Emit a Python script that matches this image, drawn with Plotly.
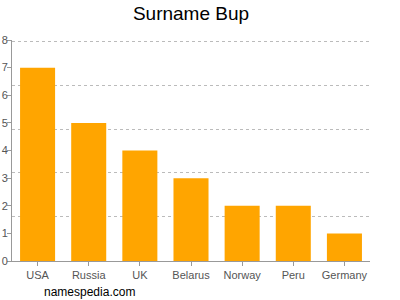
import plotly.graph_objects as go

countries = ["USA", "Russia", "UK", "Belarus", "Norway", "Peru", "Germany"]
counts = [7, 5, 4, 3, 2, 2, 1]
y_ticks = [0, 1, 2, 3, 4, 5, 6, 7, 8]

fig = go.Figure()
fig.add_trace(go.Bar(x=countries, y=counts, marker=dict(color="#FFA500", line=dict(width=0)),
                     hoverinfo="x+y"))
# invisible trace on second y axis to carry the dashed grid
fig.add_trace(go.Scatter(x=countries, y=counts, yaxis="y2", mode="markers",
                         marker=dict(opacity=0), showlegend=False, hoverinfo="skip"))

fig.update_layout(
    width=400, height=300,
    margin=dict(l=12, r=30, t=40, b=39, autoexpand=False),
    paper_bgcolor="white", plot_bgcolor="white",
    showlegend=False,
    bargap=0.315,
    font=dict(family="Liberation Sans, Arial, sans-serif", color="#555555", size=11),
    title=dict(text="Surname Bup", x=0.5, xref="paper", xanchor="center",
               y=0.955, yref="container", yanchor="middle",
               font=dict(size=19, color="#000000")),
    xaxis=dict(showline=True, linecolor="#999999", linewidth=1, automargin=False,
               ticks="outside", ticklen=4, tickcolor="#999999",
               showgrid=False, tickfont=dict(size=11, color="#555555")),
    yaxis=dict(range=[0, 8], tickvals=y_ticks, showline=True, linecolor="#999999",
               linewidth=1, ticks="outside", ticklen=4, tickcolor="#999999", automargin=False,
               ticklabelstandoff=-3,
               showgrid=False, zeroline=False, tickfont=dict(size=11, color="#555555")),
    yaxis2=dict(range=[-0.01, 8.05], overlaying="y", side="right", tick0=0, dtick=1.6,
                showgrid=True, gridcolor="#BBBBBB", griddash="3px,3px", gridwidth=1, automargin=False,
                showticklabels=False, ticks="", showline=False, zeroline=False),
    annotations=[dict(text="namespedia.com", xref="paper", yref="paper",
                      x=0.084, y=-0.14, xanchor="left", yanchor="middle",
                      showarrow=False, font=dict(size=12, color="#000000"))],
)
fig.write_html("out.html")
